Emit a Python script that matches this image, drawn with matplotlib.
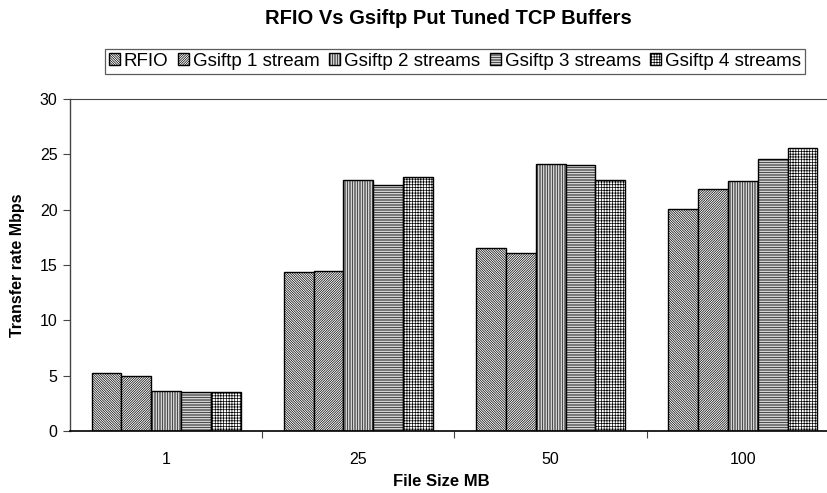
import matplotlib

matplotlib.use('Agg')
import matplotlib.pyplot as plt
import numpy as np

file_sizes = ['1', '25', '50', '100']
series_names = [
    'RFIO',
    'Gsiftp 1 stream',
    'Gsiftp 2 streams',
    'Gsiftp 3 streams',
    'Gsiftp 4 streams',
]
rfio = [5.2, 14.35, 16.5, 20.05]
gsiftp_1 = [4.95, 14.45, 16.05, 21.9]
gsiftp_2 = [3.65, 22.65, 24.1, 22.6]
gsiftp_3 = [3.55, 22.2, 24.0, 24.55]
gsiftp_4 = [3.55, 22.95, 22.7, 25.55]
y_ticks = [0, 5, 10, 15, 20, 25, 30]

# fine fill patterns, one per series
hatches = ['\\' * 14, '/' * 14, '|' * 10, '-' * 10, '+' * 6]

plt.rcParams['font.family'] = ['Liberation Sans', 'DejaVu Sans']
plt.rcParams['hatch.linewidth'] = 0.5
plt.rcParams['hatch.color'] = '#3a3a3a'

fig = plt.figure(figsize=(8.28, 4.93), dpi=100)
# plot area runs slightly past the right edge of the canvas
ax = fig.add_axes([70 / 828, 1 - 431 / 493, 769 / 828, 332 / 493])

values = [rfio, gsiftp_1, gsiftp_2, gsiftp_3, gsiftp_4]
x = np.arange(len(file_sizes))
width = 0.155
for i, (name, vals, hatch) in enumerate(zip(series_names, values, hatches)):
    offset = (i - 2) * width
    ax.bar(x + offset, vals, width, label=name, color='white',
           edgecolor='black', linewidth=1.0, hatch=hatch)

ax.set_xlim(-0.5, len(file_sizes) - 0.5)
ax.set_ylim(0, 30)
ax.set_yticks(y_ticks)
ax.set_xticks(x)
ax.set_xticklabels(file_sizes)
ax.set_xticks(np.arange(0.5, len(file_sizes) - 0.5), minor=True)
ax.tick_params(axis='x', which='major', length=0, pad=15, labelsize=11.5)
ax.tick_params(axis='x', which='minor', length=5, width=0.8,
               direction='out', color='#444444')
ax.tick_params(axis='y', length=5, width=0.8, direction='out',
               color='#444444', labelsize=11.5, pad=4)

ax.spines['right'].set_visible(False)
ax.spines['top'].set_linewidth(0.8)
ax.spines['top'].set_color('#444444')
ax.spines['left'].set_linewidth(1.0)
ax.spines['left'].set_color('#444444')
ax.spines['bottom'].set_linewidth(1.2)

fig.text(448 / 828, 1 - 18 / 493, 'RFIO Vs Gsiftp Put Tuned TCP Buffers',
         ha='center', va='center', fontsize=14.5, fontweight='bold')
fig.text(441 / 828, 1 - 482 / 493, 'File Size MB', ha='center',
         va='center', fontsize=12, fontweight='bold')
fig.text(18 / 828, 1 - 265 / 493, 'Transfer rate Mbps', ha='center',
         va='center', rotation=90, fontsize=11.5, fontweight='bold')

legend = fig.legend(loc='center', bbox_to_anchor=(455 / 828, 1 - 61.5 / 493),
                    ncol=5, fontsize=13.5, frameon=True, fancybox=False,
                    handlelength=0.6, handleheight=0.6, handletextpad=0.2,
                    columnspacing=0.5, borderpad=0.2, borderaxespad=0)
legend.get_frame().set_edgecolor('#333333')
legend.get_frame().set_linewidth(0.9)

fig.savefig('out.png', dpi=100)
